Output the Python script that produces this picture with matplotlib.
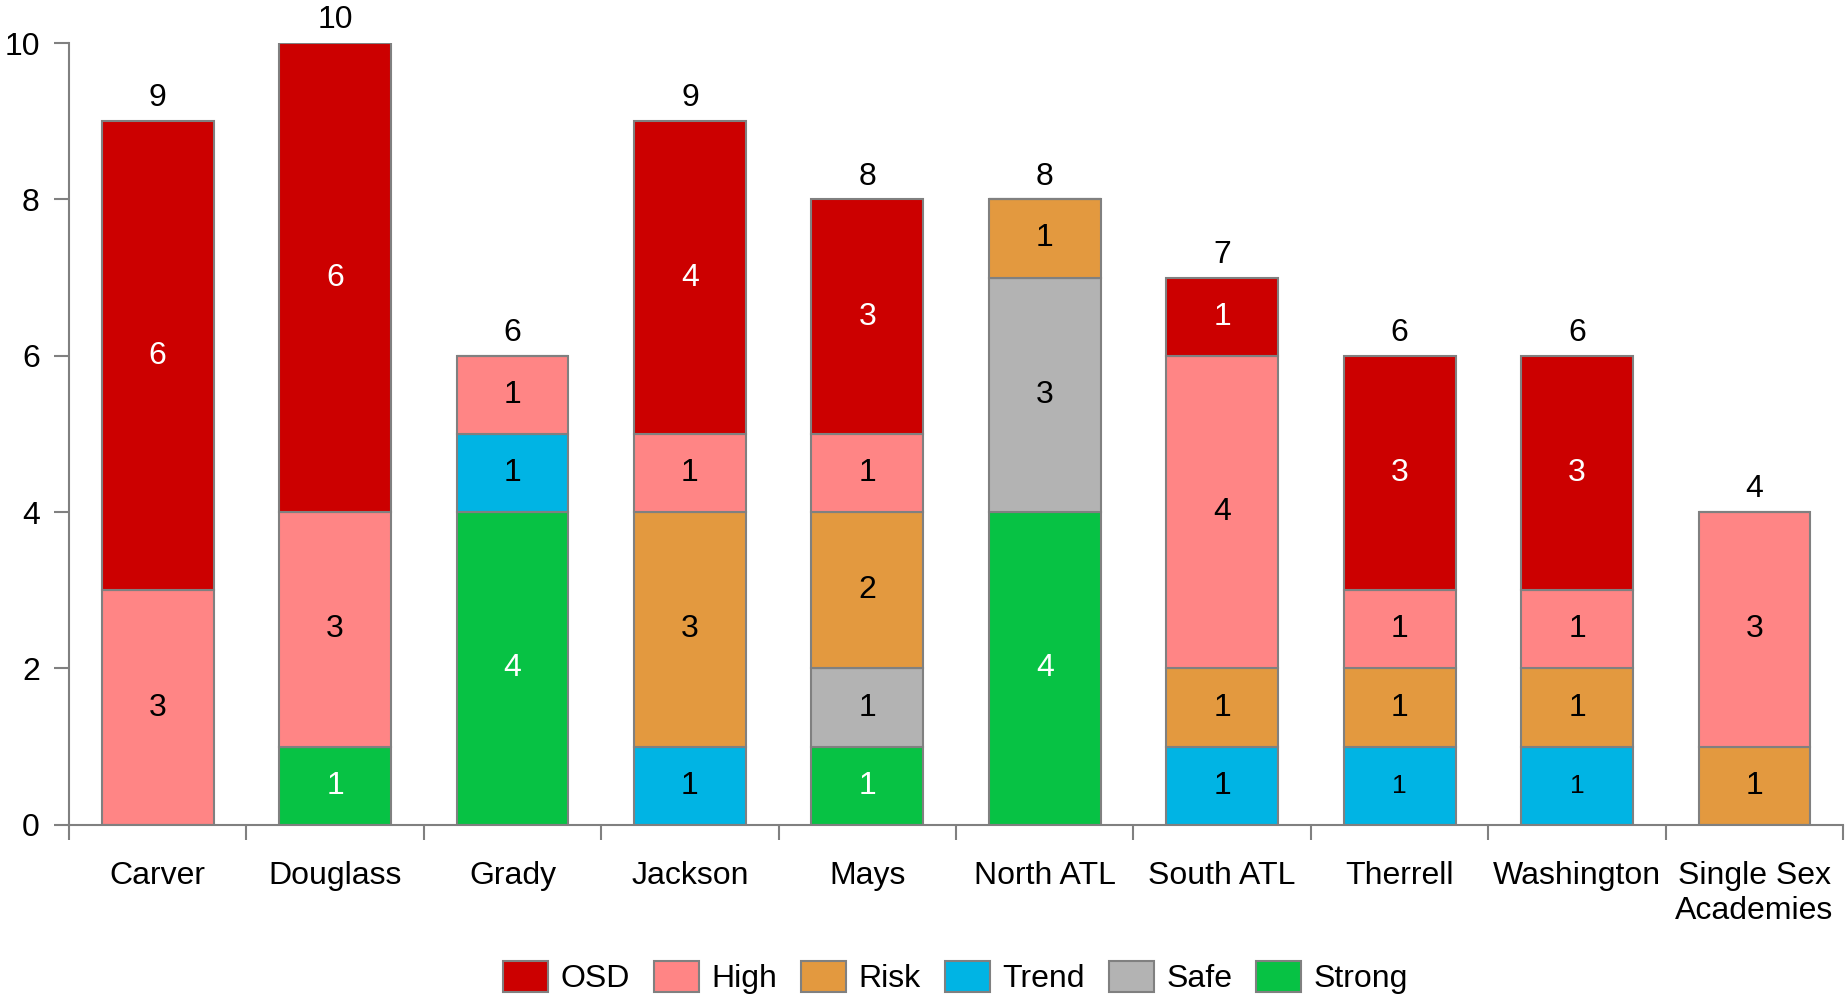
import numpy as np
import matplotlib
matplotlib.use("Agg")
import matplotlib.pyplot as plt
from matplotlib.patches import Patch

plt.rcParams["font.family"] = ["Liberation Sans", "DejaVu Sans"]

schools = ["Carver", "Douglass", "Grady", "Jackson", "Mays", "North ATL",
           "South ATL", "Therrell", "Washington", "Single Sex\nAcademies"]

# stacked bottom -> top
strong = [0, 1, 4, 0, 1, 4, 0, 0, 0, 0]
safe = [0, 0, 0, 0, 1, 3, 0, 0, 0, 0]
trend = [0, 0, 1, 1, 0, 0, 1, 1, 1, 0]
risk = [0, 0, 0, 3, 2, 1, 1, 1, 1, 1]
high = [3, 3, 1, 1, 1, 0, 4, 1, 1, 3]
osd = [6, 6, 0, 4, 3, 0, 1, 3, 3, 0]

series = [
    ("Strong", strong, "#07C244", "white"),
    ("Safe", safe, "#B3B3B3", "black"),
    ("Trend", trend, "#00B4E4", "black"),
    ("Risk", risk, "#E3993F", "black"),
    ("High", high, "#FF8585", "black"),
    ("OSD", osd, "#CC0000", "white"),
]
legend_order = ["OSD", "High", "Risk", "Trend", "Safe", "Strong"]

fs = 23
edge = "#808080"

fig = plt.figure(figsize=(18.45, 10.01), dpi=100)
ax = fig.add_axes([0.0374, 0.176, 0.9616, 0.781])

x = np.arange(len(schools))
bottom = np.zeros(len(schools))
for name, vals, color, tcol in series:
    vals = np.array(vals, dtype=float)
    ax.bar(x, vals, 0.63, bottom=bottom, color=color, edgecolor=edge,
           linewidth=1.5, zorder=2)
    for i, v in enumerate(vals):
        if v > 0:
            size = fs
            if name == "Trend" and i in (7, 8):
                size = fs - 4
            ax.text(x[i], bottom[i] + v / 2, f"{int(v)}", ha="center",
                    va="center", fontsize=size, color=tcol, zorder=3)
    bottom += vals

for i, t in enumerate(bottom):
    ax.text(x[i], t + 0.1, f"{int(t)}", ha="center", va="bottom",
            fontsize=fs, color="black")

ax.set_xlim(-0.5, len(schools) - 0.5)
ax.set_ylim(0, 10)
ax.set_yticks(range(0, 11, 2))
ax.set_xticks(np.arange(-0.5, len(schools), 1.0))
ax.set_xticklabels([])
ax.set_xticks(x, minor=True)
ax.set_xticklabels(schools, minor=True, fontsize=fs)
ax.tick_params(axis="x", which="minor", length=0, pad=26)
ax.tick_params(axis="x", which="major", length=11, width=1.5, color=edge)
ax.tick_params(axis="y", length=11, width=1.5, color=edge, labelsize=fs, pad=10)

for s in ["top", "right"]:
    ax.spines[s].set_visible(False)
for s in ["left", "bottom"]:
    ax.spines[s].set_color(edge)
    ax.spines[s].set_linewidth(1.5)

colors = {name: c for name, _, c, _ in series}
handles = [Patch(facecolor=colors[n], edgecolor=edge, linewidth=1.5, label=n)
           for n in legend_order]
fig.legend(handles=handles, loc="lower center", ncol=6, frameon=False,
           fontsize=fs, handlelength=1.4, handleheight=1.1, handletextpad=0.4,
           columnspacing=0.75, bbox_to_anchor=(0.518, -0.022))

fig.savefig("out.png", dpi=100)
